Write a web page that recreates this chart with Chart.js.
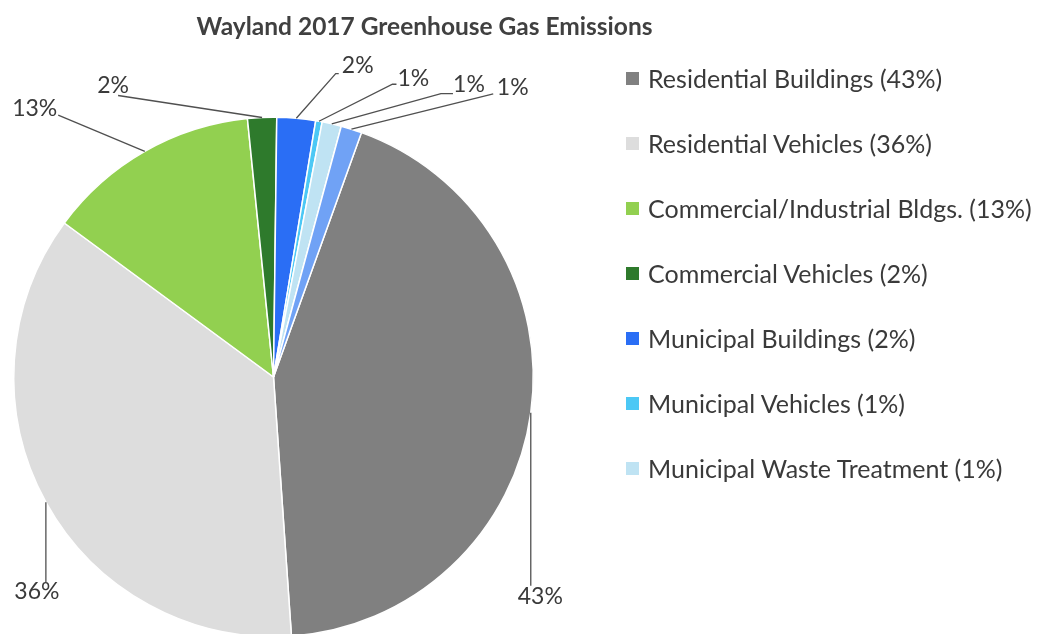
<!DOCTYPE html>
<html>
<head>
<meta charset="utf-8">
<script src="https://cdn.jsdelivr.net/npm/chart.js@4/dist/chart.umd.min.js"></script>
<style>
  html, body { margin: 0; padding: 0; background: #ffffff; overflow: hidden; width: 1037px; height: 634px; }
  #wrap { position: relative; width: 1037px; height: 634px; overflow: hidden; }
  #c { position: absolute; left: 0; top: 0; }
  #title { position: absolute; left: 0; width: 849px; top: 11px; text-align: center;
           font-family: Lato, sans-serif; font-weight: bold; font-size: 24.5px; color: #404040; white-space: nowrap; }
  #legend { position: absolute; left: 626px; top: 0; }
  .li { position: absolute; left: 0; white-space: nowrap; font-family: Lato, sans-serif; font-size: 25px; color: #3a3a3a; line-height: 30px; height: 30px; }
  .sw { position: absolute; left: 0; top: 9px; width: 13px; height: 13px; }
  .tx { position: absolute; left: 22px; top: 0; }
</style>
</head>
<body>
<div id="wrap">
  <canvas id="c" width="1037" height="700"></canvas>
  <div id="title">Wayland 2017 Greenhouse Gas Emissions</div>
  <div id="legend"></div>
</div>
<script>
// ---- data ----
const categories = [
  'Residential Buildings',
  'Residential Vehicles',
  'Commercial/Industrial Bldgs.',
  'Commercial Vehicles',
  'Municipal Buildings',
  'Municipal Vehicles',
  'Municipal Waste Treatment',
  ''
];
const shares = [43.4, 36.2, 13.3, 1.8, 2.4, 0.4, 1.2, 1.3];
const pctLabels = ['43%', '36%', '13%', '2%', '2%', '1%', '1%', '1%'];
const title = 'Wayland 2017 Greenhouse Gas Emissions';

// ---- styles ----
const colors = ['#808080', '#dddddd', '#92d050', '#2e7a2c', '#2a6ef5', '#4cc8f5', '#bfe3f3', '#70a2f5'];
const textColor = '#3a3a3a';
const labelFont = '23px Lato, sans-serif';
// leader line layout per slice: leg = offset of line end from arc mid-point,
// elbow = optional horizontal extension, text = text centre offset from line end
const leaderLayout = [
  { leg: [0, 173], elbow: 0, text: [9.5, 11] },
  { leg: [0, 80], elbow: 0, text: [-9, 9] },
  { leg: [-86.6, -36.2], elbow: 0, text: [-23.5, -7] },
  { leg: [-144, -22], elbow: 0, text: [-5, -10] },
  { leg: [39.4, -44.7], elbow: 3, text: [22, -8] },
  { leg: [73.5, -37], elbow: 4, text: [20.8, -5.3] },
  { leg: [109.2, -30.2], elbow: 12, text: [28, -8.7] },
  { leg: [141.8, -35.4], elbow: 0, text: [19.5, -6] }
];

document.getElementById('title').textContent = title;

const leaderPlugin = {
  id: 'leaders',
  afterDatasetsDraw(chart) {
    const ctx = chart.ctx;
    const meta = chart.getDatasetMeta(0);
    ctx.save();
    ctx.font = labelFont;
    ctx.fillStyle = textColor;
    ctx.strokeStyle = '#505050';
    ctx.lineWidth = 1.3;
    ctx.textAlign = 'center';
    ctx.textBaseline = 'middle';
    meta.data.forEach((arc, i) => {
      const p = arc.getProps(['x', 'y', 'startAngle', 'endAngle', 'outerRadius'], true);
      const mid = (p.startAngle + p.endAngle) / 2;
      const ax = p.x + Math.cos(mid) * p.outerRadius;
      const ay = p.y + Math.sin(mid) * p.outerRadius;
      const L = leaderLayout[i];
      const ex = ax + L.leg[0], ey = ay + L.leg[1];
      ctx.beginPath();
      ctx.moveTo(ax, ay);
      ctx.lineTo(ex, ey);
      if (L.elbow) ctx.lineTo(ex + L.elbow, ey);
      ctx.stroke();
      ctx.fillText(pctLabels[i], ex + L.text[0], ey + L.text[1]);
    });
    ctx.restore();
  }
};

const chart = new Chart(document.getElementById('c'), {
  type: 'pie',
  data: {
    labels: categories,
    datasets: [{
      data: shares,
      backgroundColor: colors,
      borderColor: '#ffffff',
      borderWidth: 1.5
    }]
  },
  options: {
    responsive: false,
    animation: false,
    rotation: 19.8,
    layout: { padding: { left: 13, top: 116.5, right: 503, bottom: 62.5 } },
    plugins: {
      legend: { display: false },
      title: { display: false },
      tooltip: { enabled: false }
    }
  },
  plugins: [leaderPlugin]
});

// HTML legend built from the chart's own data
const legend = document.getElementById('legend');
const rowTops = 63, rowGap = 65;
let row = 0;
categories.forEach((name, i) => {
  if (!name) return;
  const d = document.createElement('div');
  d.className = 'li';
  d.style.top = (rowTops + row * rowGap) + 'px';
  const sw = document.createElement('div');
  sw.className = 'sw';
  sw.style.background = colors[i];
  const tx = document.createElement('span');
  tx.className = 'tx';
  tx.textContent = name + ' (' + pctLabels[i] + ')';
  d.appendChild(sw); d.appendChild(tx);
  legend.appendChild(d);
  row++;
});
</script>
</body>
</html>
